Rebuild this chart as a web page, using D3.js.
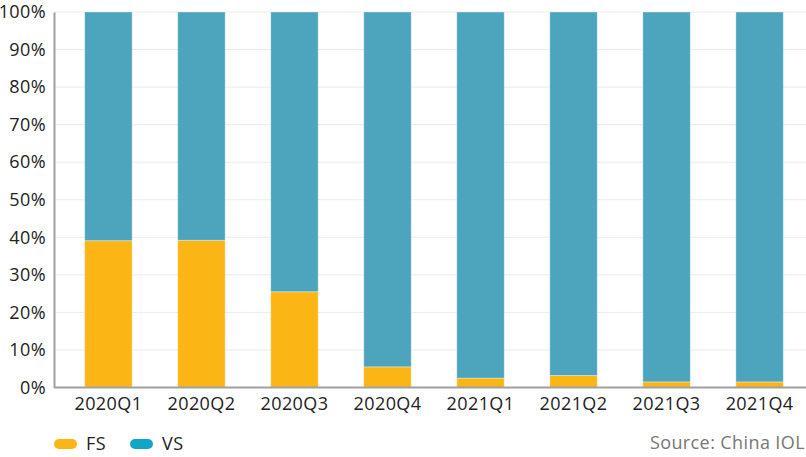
<!DOCTYPE html>
<html>
<head>
<meta charset="utf-8">
<script src="https://cdn.jsdelivr.net/npm/d3@7"></script>
<style>
  html, body { margin: 0; padding: 0; background: #fff; }
  svg { display: block; }
  text { font-family: "Open Sans", "Noto Sans", sans-serif; letter-spacing: 0.4px; }
</style>
</head>
<body>
<svg id="chart" width="806" height="457"></svg>
<script>
const categories = ["2020Q1", "2020Q2", "2020Q3", "2020Q4", "2021Q1", "2021Q2", "2021Q3", "2021Q4"];
const fsValues = [39.1, 39.2, 25.5, 5.5, 2.5, 3.2, 1.5, 1.5];
const vsValues = fsValues.map(v => 100 - v);
const seriesNames = ["FS", "VS"];
const yTicks = [0, 10, 20, 30, 40, 50, 60, 70, 80, 90, 100];
const sourceText = "Source: China IOL";

const barColors = { FS: "#fbb615", VS: "#4ca4bd" };
const legendColors = { FS: "#fbb615", VS: "#12a6c4" };

const W = 806, H = 457;
const mLeft = 54, mRight = 814, mTop = 12, mBottom = 387.5;
const fontSize = 18;

const svg = d3.select("#chart");

const x = d3.scaleBand().domain(categories).range([mLeft, mRight])
  .paddingInner(0.49).paddingOuter(0.33);
const y = d3.scaleLinear().domain([0, 100]).range([mBottom, mTop]);

// gridlines
svg.append("g").selectAll("line").data(yTicks.filter(t => t > 0)).join("line")
  .attr("x1", mLeft).attr("x2", W)
  .attr("y1", d => y(d)).attr("y2", d => y(d))
  .attr("stroke", "#ebebeb").attr("stroke-width", 1);

// stacked bars
const rows = categories.map((c, i) => ({ cat: c, FS: fsValues[i], VS: vsValues[i] }));
const stack = d3.stack().keys(seriesNames)(rows);

svg.append("g").selectAll("g").data(stack).join("g")
  .attr("fill", d => barColors[d.key])
  .selectAll("rect").data(d => d).join("rect")
  .attr("x", d => x(d.data.cat))
  .attr("width", x.bandwidth())
  .attr("y", d => y(d[1]))
  .attr("height", d => y(d[0]) - y(d[1]))
  .attr("stroke", "rgba(255,255,255,0.35)")
  .attr("stroke-width", 1);

// y axis
const yAxis = d3.axisLeft(y).tickValues(yTicks).tickFormat(d => d + "%").tickSize(0).tickPadding(8);
const gy = svg.append("g").attr("transform", `translate(${mLeft},0)`).call(yAxis);
gy.select(".domain").attr("stroke", "#a0a0a0").attr("stroke-width", 2);
gy.selectAll("text").attr("font-size", fontSize).attr("fill", "#222");

// x axis
const xAxis = d3.axisBottom(x).tickSize(0).tickPadding(10);
const gx = svg.append("g").attr("transform", `translate(0,${mBottom})`).call(xAxis);
gx.select(".domain").attr("stroke", "#a0a0a0").attr("stroke-width", 2).attr("d", `M${mLeft},0H${W}`);
gx.selectAll("text").attr("font-size", fontSize).attr("fill", "#222");

// legend
const legend = svg.append("g").attr("transform", "translate(54,444)");
const legendX = [0, 76];
seriesNames.forEach((s, i) => {
  const g = legend.append("g").attr("transform", `translate(${legendX[i]},0)`);
  g.append("rect").attr("x", 0).attr("y", -5).attr("width", 23).attr("height", 10)
    .attr("rx", 5).attr("fill", legendColors[s]);
  g.append("text").attr("x", 32).attr("y", 0).attr("dy", "0.35em")
    .attr("font-size", fontSize).attr("fill", "#222").text(s);
});

// source
svg.append("text").attr("x", 805).attr("y", 443).attr("dy", "0.35em")
  .attr("text-anchor", "end").attr("font-size", fontSize).attr("fill", "#777").text(sourceText);
</script>
</body>
</html>
